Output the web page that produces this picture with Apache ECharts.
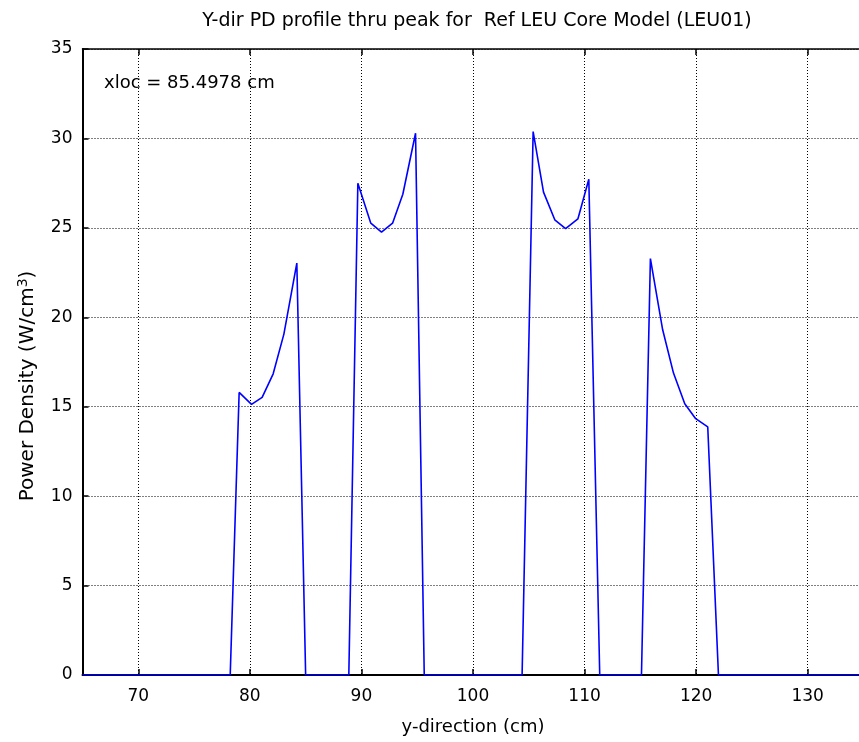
<!DOCTYPE html>
<html>
<head>
<meta charset="utf-8">
<title>Y-dir PD profile</title>
<script src="https://cdn.jsdelivr.net/npm/echarts@6/dist/echarts.min.js"></script>
<style>
  html, body { margin: 0; padding: 0; background: #fff; }
  #chart { width: 859px; height: 742px; }
</style>
</head>
<body>
<div id="chart"></div>
<script>
// y position across the core (cm)
const yPos = [
  65.00, 78.24, 79.04, 80.15, 81.10, 82.09, 83.05, 84.21, 85.00,
  88.87, 89.68, 90.84, 91.80, 92.79, 93.71, 94.85, 95.63,
  104.40, 105.39, 106.32, 107.33, 108.30, 109.40, 110.38, 111.36,
  115.10, 115.90, 117.00, 117.97, 118.98, 119.96, 121.04, 122.00, 135.00
];
// power density at each position (W/cm^3)
const powerDensity = [
  0, 0, 15.80, 15.13, 15.52, 16.84, 19.06, 23.03, 0,
  0, 27.50, 25.26, 24.76, 25.26, 26.88, 30.29, 0,
  0, 30.38, 27.00, 25.45, 24.96, 25.50, 27.72, 0,
  0, 23.28, 19.30, 16.88, 15.17, 14.33, 13.87, 0, 0
];
const xTicks = [70, 80, 90, 100, 110, 120, 130];
const yTicks = [0, 5, 10, 15, 20, 25, 30, 35];

const titleText = 'Y-dir PD profile thru peak for  Ref LEU Core Model (LEU01)';
const noteText = 'xloc = 85.4978 cm';

const FONT = 'DejaVu Sans';
const dotted = { color: '#000', width: 1, type: [1, 2] };

const chart = echarts.init(document.getElementById('chart'), null, { renderer: 'canvas' });

const points = yPos.map((y, i) => [y, powerDensity[i]]);

chart.setOption({
  animation: false,
  backgroundColor: '#fff',
  title: {
    text: titleText,
    left: 472,
    top: 7,
    textAlign: 'center',
    textStyle: { fontFamily: FONT, fontSize: 19, fontWeight: 'normal', color: '#000' }
  },
  grid: { left: 82.5, top: 49, width: 781, height: 626, outerBoundsMode: 'none', containLabel: false },
  xAxis: [
    {
      type: 'value',
      position: 'bottom',
      min: 65,
      max: 135,
      splitNumber: 7,
      name: 'y-direction (cm)',
      nameLocation: 'middle',
      nameGap: 43,
      nameTextStyle: { fontFamily: FONT, fontSize: 18, color: '#000' },
      axisLine: { show: true, onZero: false, lineStyle: { color: '#000', width: 2 } },
      axisTick: { show: true, inside: true, length: 6, lineStyle: { color: '#000', width: 1.5 } },
      axisLabel: {
        margin: 13,
        fontFamily: FONT, fontSize: 17, color: '#000',
        formatter: v => (xTicks.indexOf(v) >= 0 ? String(v) : '')
      },
      splitLine: { show: true, lineStyle: dotted }
    },
    {
      type: 'value',
      position: 'top',
      min: 65,
      max: 135,
      splitNumber: 7,
      axisLine: { show: true, onZero: false, lineStyle: { color: '#000', width: 1.5 } },
      axisTick: { show: true, inside: true, length: 6, lineStyle: { color: '#000', width: 1.5 } },
      axisLabel: { show: false },
      splitLine: { show: false }
    }
  ],
  yAxis: {
    type: 'value',
    min: yTicks[0],
    max: yTicks[yTicks.length - 1],
    interval: 5,
    axisLine: { show: true, onZero: false, lineStyle: { color: '#000', width: 2 } },
    axisTick: { show: true, inside: true, length: 6, lineStyle: { color: '#000', width: 1.5 } },
    axisLabel: { margin: 10, fontFamily: FONT, fontSize: 17, color: '#000' },
    splitLine: { show: true, lineStyle: dotted }
  },
  graphic: [
    {
      type: 'text',
      left: 104,
      top: 74,
      style: { text: noteText, font: '18px "DejaVu Sans"', fill: '#000' }
    },
    {
      // y-axis title, rotated, with superscript exponent
      type: 'text',
      x: 28,
      y: 386,
      rotation: Math.PI / 2,
      style: {
        text: '{t|Power Density (W/cm}{s|3}{t|)}',
        align: 'center',
        verticalAlign: 'middle',
        rich: {
          t: { fontFamily: FONT, fontSize: 20, fill: '#000', color: '#000', lineHeight: 24 },
          s: { fontFamily: FONT, fontSize: 14, fill: '#000', color: '#000', lineHeight: 24, verticalAlign: 'top' }
        }
      }
    }
  ],
  series: [
    {
      type: 'line',
      data: points,
      xAxisIndex: 0,
      symbol: 'none',
      clip: true,
      lineStyle: { color: '#0000ff', width: 1.6 },
      itemStyle: { color: '#0000ff' },
      z: 5
    }
  ]
});
</script>
</body>
</html>
